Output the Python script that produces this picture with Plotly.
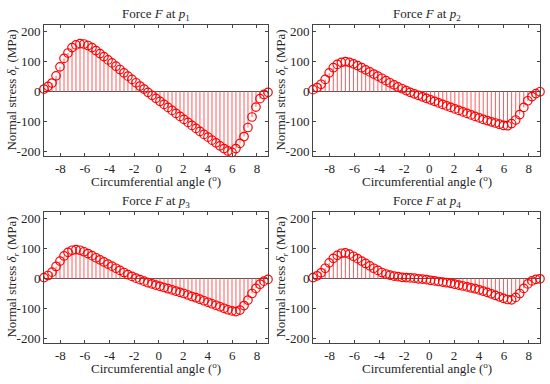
import plotly.graph_objects as go

# Circumferential angle (deg)
angle = [-9.33, -9.00, -8.68, -8.35, -8.03, -7.70, -7.38, -7.05, -6.73, -6.40,
         -6.08, -5.75, -5.42, -5.10, -4.77, -4.45, -4.12, -3.80, -3.47, -3.15,
         -2.82, -2.50, -2.17, -1.84, -1.52, -1.19, -0.87, -0.54, -0.22, 0.11,
         0.44, 0.76, 1.09, 1.41, 1.74, 2.06, 2.39, 2.71, 3.04, 3.36,
         3.69, 4.02, 4.34, 4.67, 4.99, 5.32, 5.64, 5.97, 6.29, 6.62,
         6.95, 7.27, 7.60, 7.92, 8.25, 8.57, 8.90]

stress_p1 = [8, 17, 28, 52, 82, 110, 128, 146, 155, 159,
             158, 153, 146, 136, 126, 116, 105, 95, 84, 73,
             62, 51, 40, 29, 18, 8, -3, -13, -23, -33,
             -43, -53, -63, -73, -83, -93, -103, -113, -123, -133,
             -143, -152, -162, -171, -181, -190, -198, -203, -190, -173,
             -150, -120, -85, -52, -24, -10, -3]

stress_p2 = [6, 13, 24, 40, 62, 79, 90, 97, 99, 97,
             92, 86, 79, 72, 65, 58, 51, 44, 36, 29,
             22, 15, 9, 3, -3, -8, -13, -18, -23, -28,
             -33, -38, -43, -48, -53, -58, -63, -68, -73, -78,
             -83, -88, -93, -97, -101, -105, -109, -113, -114, -107,
             -95, -77, -53, -31, -17, -7, -1]

stress_p3 = [3, 10, 21, 40, 58, 75, 87, 94, 96, 94,
             89, 83, 76, 69, 62, 55, 48, 41, 34, 27,
             20, 13, 7, 1, -4, -9, -14, -18, -22, -26,
             -30, -34, -38, -42, -46, -50, -55, -60, -64, -69,
             -74, -79, -84, -89, -94, -99, -104, -108, -110, -105,
             -90, -72, -50, -33, -19, -9, -3]

stress_p4 = [3, 9, 19, 34, 52, 67, 77, 84, 85, 81,
             74, 66, 58, 50, 42, 34, 27, 20, 15, 11,
             8, 6, 4, 3, 2, 1, -1, -2, -4, -6,
             -8, -10, -12, -14, -16, -19, -22, -25, -28, -31,
             -34, -38, -42, -46, -51, -56, -61, -66, -70, -71,
             -63, -50, -33, -18, -8, -3, -1]

titles = ["Force <i>F</i> at <i>p</i><sub>1</sub>",
          "Force <i>F</i> at <i>p</i><sub>2</sub>",
          "Force <i>F</i> at <i>p</i><sub>3</sub>",
          "Force <i>F</i> at <i>p</i><sub>4</sub>"]
x_ticks = [-8, -6, -4, -2, 0, 2, 4, 6, 8]
x_tick_labels = ["-8", "-6", "-4", "-2", "0", "2", "4", "6", "8"]
y_ticks = [-200, -100, 0, 100, 200]
y_tick_labels = ["-200", "-100", "0", "100", "200"]
x_label = "Circumferential angle (<sup>o</sup>)"
y_label = "Normal stress <i>δ</i><sub><i>r</i></sub> (MPa)"

series = [stress_p1, stress_p2, stress_p3, stress_p4]

W, H = 550, 384
FONT = "Liberation Serif, Times New Roman, serif"
TXT = "#262626"
RED = "#ff0000"
STEM = "#ff5a5a"

# pixel boxes of axes: (left, right, top, bottom)
boxes = [(44, 268, 24, 157), (313, 540, 24, 157),
         (44, 268, 213, 346), (313, 540, 213, 346)]

fig = go.Figure()
annotations = []
for k, (vals, (l, r, t, b)) in enumerate(zip(series, boxes)):
    xa = "x" if k == 0 else f"x{k+1}"
    ya = "y" if k == 0 else f"y{k+1}"
    up = [max(v, 0) for v in vals]      # stem length below a positive point
    down = [max(-v, 0) for v in vals]   # stem length above a negative point
    fig.add_trace(go.Scatter(
        x=angle, y=vals, mode="markers", xaxis=xa, yaxis=ya,
        marker=dict(symbol="circle-open", size=8.5, color=RED,
                    line=dict(color=RED, width=1.2)),
        error_y=dict(type="data", symmetric=False, array=down, arrayminus=up,
                     color=STEM, thickness=1, width=0),
        cliponaxis=False, showlegend=False, hoverinfo="skip"))
    axcommon = dict(showline=True, mirror="allticks", ticks="inside", ticklen=3,
                    linecolor="#444", tickcolor="#444", linewidth=1,
                    showgrid=False,
                    tickfont=dict(family=FONT, size=13, color=TXT))
    fig.layout[("xaxis" if k == 0 else f"xaxis{k+1}")] = dict(
        domain=[l / W, r / W], range=[-9.33, 8.9], tickvals=x_ticks,
        ticktext=x_tick_labels, zeroline=False, anchor=ya, **axcommon)
    fig.layout[("yaxis" if k == 0 else f"yaxis{k+1}")] = dict(
        domain=[1 - b / H, 1 - t / H], range=[-216, 222], tickvals=y_ticks,
        ticktext=y_tick_labels, zeroline=True, zerolinecolor="#555",
        zerolinewidth=1, anchor=xa, **axcommon)
    cx = (l + r) / 2
    annotations.append(dict(text=titles[k], x=cx / W, y=1 - (t - 10) / H,
                            xref="paper", yref="paper", showarrow=False,
                            xanchor="center", yanchor="middle",
                            font=dict(family=FONT, size=13, color=TXT)))
    annotations.append(dict(text=x_label, x=cx / W, y=1 - (b + 25) / H,
                            xref="paper", yref="paper", showarrow=False,
                            xanchor="center", yanchor="middle",
                            font=dict(family=FONT, size=13, color=TXT)))
    annotations.append(dict(text=y_label, x=(l - 31) / W, y=1 - ((t + b) / 2) / H,
                            xref="paper", yref="paper", showarrow=False,
                            textangle=-90, xanchor="center", yanchor="middle",
                            font=dict(family=FONT, size=13, color=TXT)))

fig.update_layout(width=W, height=H, margin=dict(l=0, r=0, t=0, b=0),
                  paper_bgcolor="white", plot_bgcolor="white",
                  annotations=annotations, showlegend=False)

fig.write_html("out.html", config={"displayModeBar": False},
               post_script="document.body.style.margin='0';"
                           "document.body.style.overflow='hidden';")
